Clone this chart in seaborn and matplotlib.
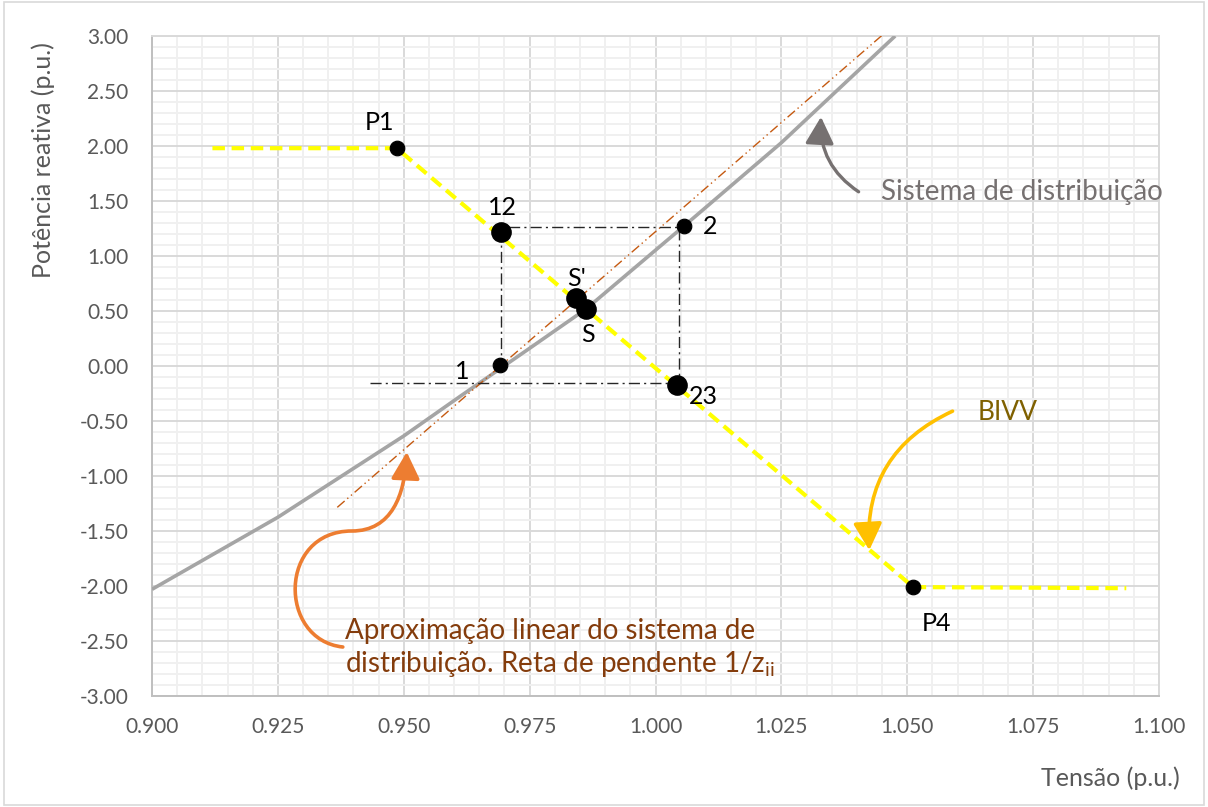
import numpy as np
import pandas as pd
import matplotlib
matplotlib.use("Agg")
import matplotlib.pyplot as plt
import seaborn as sns
from matplotlib.patches import FancyArrowPatch, Rectangle
from matplotlib.path import Path

# --- data ---
# distribution system curve (voltage x reactive power)
sys_v = [0.900, 0.925, 0.950, 0.9611, 0.9654, 0.975, 0.9862, 1.0056, 1.025, 1.0476]
sys_q = [-2.03, -1.375, -0.636, -0.279, -0.143, 0.161, 0.518, 1.27, 2.03, 3.00]

# BIVV characteristic (yellow dashed)
bivv_v = [0.912, 0.9486, 1.0512, 1.0935]
bivv_q = [1.98, 1.98, -2.01, -2.02]

# linear approximation, slope 1/z_ii
lin_v = [0.9368, 1.0456]
lin_q = [-1.285, 3.03]

# iteration path (dash-dot)
iter_v = [0.9433, 1.0046, 1.0046, 0.9694, 0.9694]
iter_q = [-0.155, -0.155, 1.266, 1.266, 0.003]

# marked points
pt_names = ["P1", "P4", "1", "2", "12", "23", "S'", "S"]
pt_v = [0.9486, 1.0512, 0.9692, 1.0056, 0.9694, 1.0043, 0.9842, 0.9862]
pt_q = [1.98, -2.01, 0.005, 1.27, 1.22, -0.173, 0.615, 0.518]
pt_big = [False, False, False, False, True, True, True, True]

# --- style ---
sns.set_theme(style="white")
plt.rcParams["font.family"] = ["Lato", "DejaVu Sans"]
plt.rcParams["mathtext.default"] = "regular"

fig = plt.figure(figsize=(12.08, 8.07), dpi=100)
ax = fig.add_axes([152 / 1208, 1 - 696 / 807, (1159 - 152) / 1208, (696 - 36) / 807])

ax.set_xlim(0.9, 1.1)
ax.set_ylim(-3.0, 3.0)
ax.set_xticks(np.arange(0.9, 1.1001, 0.025))
ax.set_yticks(np.arange(-3.0, 3.001, 0.5))
ax.set_xticks(np.arange(0.9, 1.1001, 0.005), minor=True)
ax.set_yticks(np.arange(-3.0, 3.001, 0.1), minor=True)
ax.xaxis.set_major_formatter(matplotlib.ticker.FormatStrFormatter("%.3f"))
ax.yaxis.set_major_formatter(matplotlib.ticker.FormatStrFormatter("%.2f"))
ax.grid(which="major", color="#D9D9D9", lw=1.4)
ax.grid(which="minor", color="#F0F0F0", lw=1.4)
ax.set_axisbelow(True)
ax.tick_params(which="both", length=0)
ax.tick_params(axis="y", pad=17, labelsize=15, labelcolor="#595959")
ax.tick_params(axis="x", pad=15, labelsize=15, labelcolor="#595959")
for s in ax.spines.values():
    s.set_color("#D9D9D9")
    s.set_linewidth(1.4)
ax.spines["left"].set_color("#BFBFBF")
ax.spines["bottom"].set_color("#BFBFBF")

# --- series ---
sns.lineplot(x=sys_v, y=sys_q, ax=ax, color="#A5A5A5", lw=2.6, sort=False,
             estimator=None, zorder=3)
sns.lineplot(x=lin_v, y=lin_q, ax=ax, color="#C55A11", lw=1.0, sort=False,
             estimator=None, linestyle=(0, (7, 2.5, 1, 2.5, 1, 2.5)), zorder=3)
sns.lineplot(x=bivv_v, y=bivv_q, ax=ax, color="#FFFF00", lw=3.0, sort=False,
             estimator=None, linestyle=(0, (3, 1.6)), zorder=4)
sns.lineplot(x=iter_v, y=iter_q, ax=ax, color="#262626", lw=1.0, sort=False,
             estimator=None, linestyle=(0, (8, 3, 1.5, 3)), zorder=4)

pts = pd.DataFrame({"v": pt_v, "q": pt_q, "big": pt_big})
sns.scatterplot(data=pts[~pts.big], x="v", y="q", ax=ax, color="black", s=110,
                edgecolor="black", zorder=6)
sns.scatterplot(data=pts[pts.big], x="v", y="q", ax=ax, color="black", s=190,
                edgecolor="black", zorder=6)
for line in ax.lines:
    line.set_solid_capstyle("butt")
    line.set_solid_joinstyle("round")

ax.set_xlabel("")
ax.set_ylabel("")

# --- point labels ---
lab_pos = {"P1": (0.9452, 2.21), "P4": (1.0558, -2.34), "1": (0.9617, -0.05),
           "2": (1.0109, 1.27), "12": (0.9696, 1.44), "23": (1.0095, -0.28),
           "S'": (0.9843, 0.80), "S": (0.9865, 0.29)}
for name in pt_names:
    x, y = lab_pos[name]
    ax.text(x, y, name, fontsize=18, color="black", ha="center", va="center", zorder=7)

# --- annotations ---
ax.text(1.0448, 1.58, "Sistema de distribuição", fontsize=20, color="#767171",
        ha="left", va="center")
ax.text(1.0639, -0.42, "BIVV", fontsize=19, color="#7F6000", ha="left", va="center")
ax.text(0.9383, -2.41, "Aproximação linear do sistema de", fontsize=20,
        color="#843C0C", ha="left", va="center")
ax.text(0.9383, -2.71, "distribuição. Reta de pendente 1/z$_{ii}$", fontsize=20,
        color="#843C0C", ha="left", va="center")

astyle = "-|>,head_length=0.75,head_width=0.4"
ax.add_patch(FancyArrowPatch((1.0408, 1.57), (1.0329, 2.29), arrowstyle=astyle,
                             mutation_scale=22, color="#767171", lw=2.4,
                             connectionstyle="arc3,rad=-0.3", zorder=5))
ax.add_patch(FancyArrowPatch((1.0595, -0.40), (1.0425, -1.70), arrowstyle=astyle,
                             mutation_scale=22, color="#FFC000", lw=2.6,
                             connectionstyle="arc3,rad=0.35", zorder=5))


def px(xp, yp):
    return (0.9 + (xp - 152) / 5040, 3 - (yp - 36) / 110)


verts = [px(343, 647), px(278, 640), px(278, 531), px(352, 531),
         px(392, 531), px(405, 495), px(407, 452)]
codes = [Path.MOVETO] + [Path.CURVE4] * 6
ax.add_patch(FancyArrowPatch(path=Path(verts, codes), arrowstyle=astyle,
                             mutation_scale=22, color="#ED7D31", lw=2.6, zorder=5))

# axis titles
fig.text(43 / 1208, 1 - 160 / 807, "Potência reativa (p.u.)", rotation=90,
         fontsize=18, color="#595959", ha="center", va="center")
fig.text(1180 / 1208, 1 - 778 / 807, "Tensão (p.u.)", fontsize=18,
         color="#595959", ha="right", va="center")

fig.patches.append(Rectangle((0.003, 0.003), 0.994, 0.994, transform=fig.transFigure,
                             fill=False, edgecolor="#D9D9D9", lw=1.2))

fig.savefig("out.png", dpi=100)
